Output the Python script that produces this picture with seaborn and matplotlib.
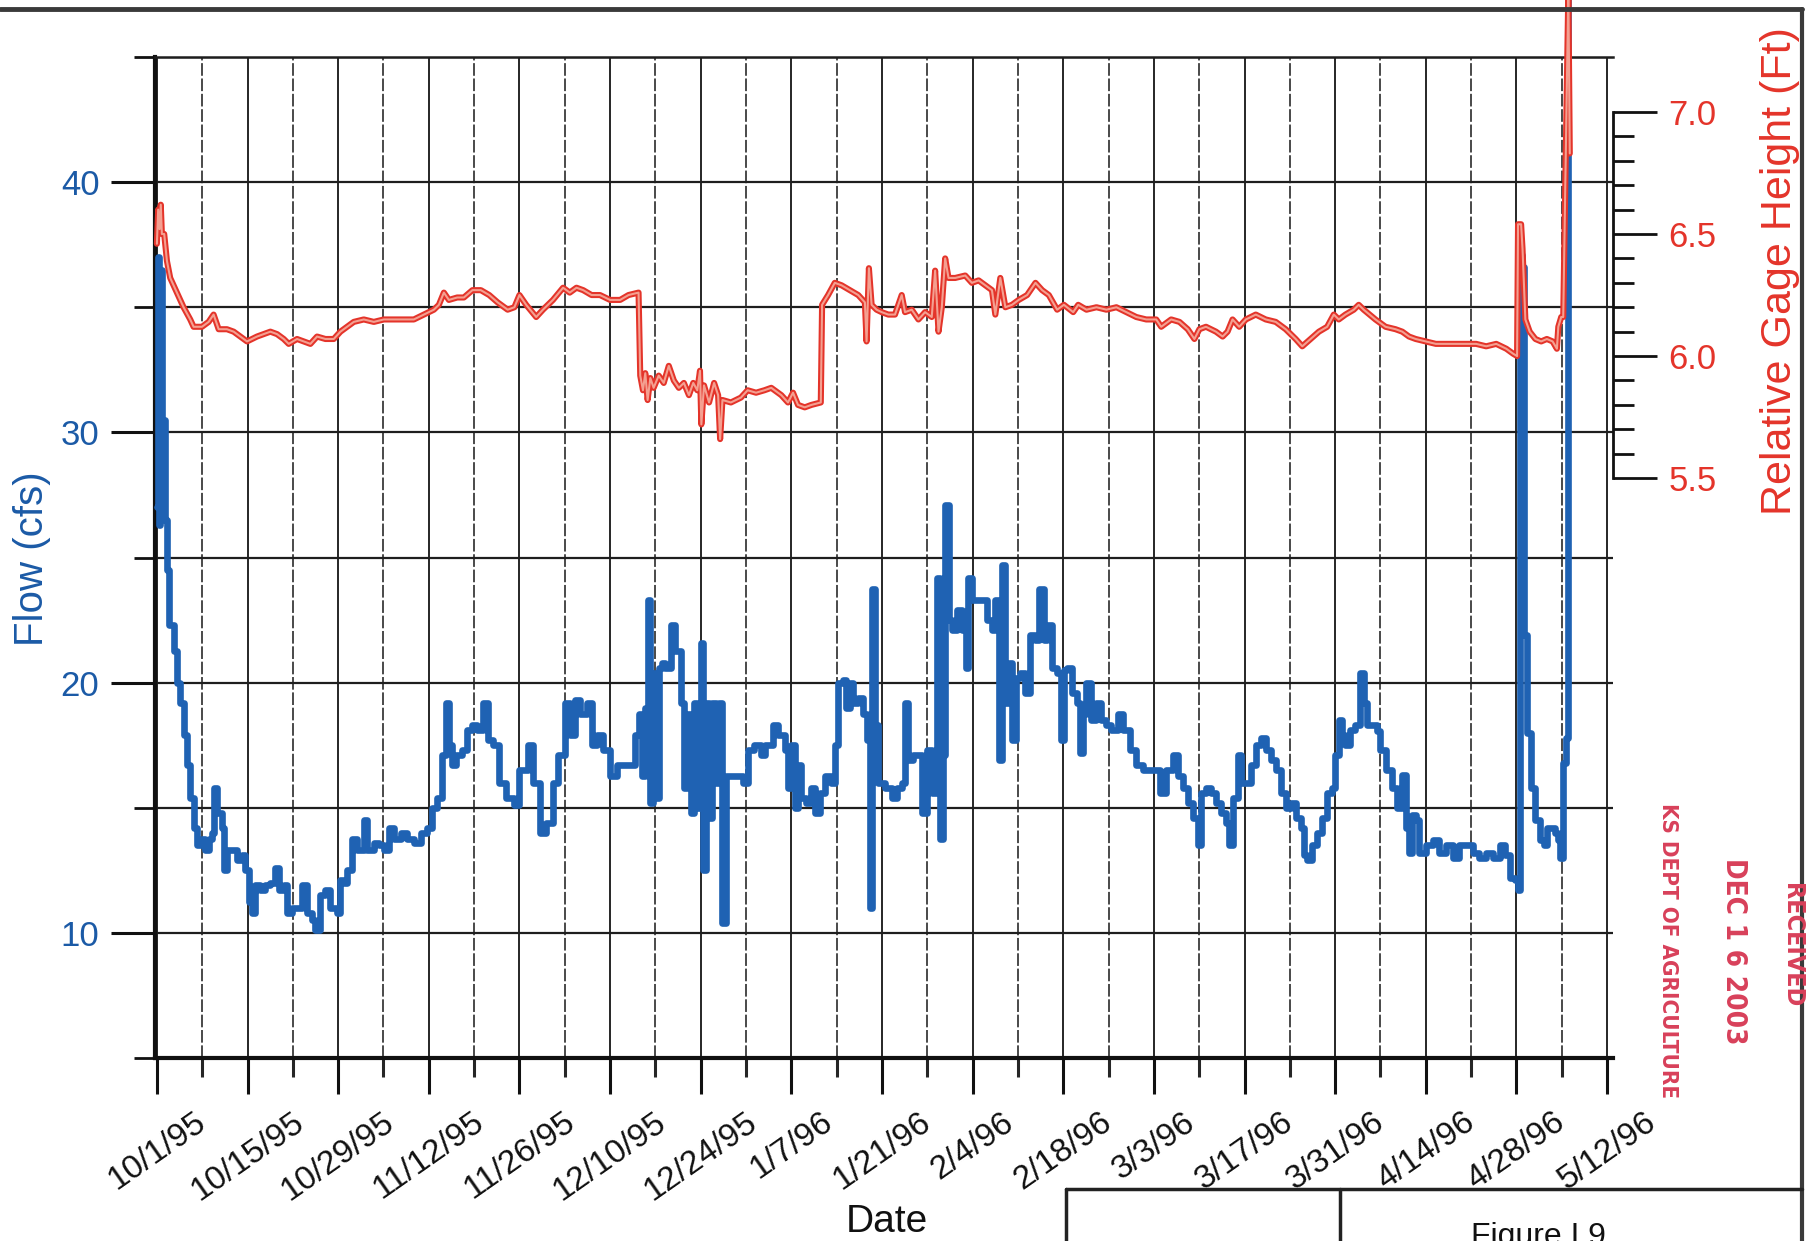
import numpy as np
import pandas as pd
import matplotlib
matplotlib.use("Agg")
import matplotlib.pyplot as plt
import matplotlib.dates as mdates
from matplotlib.lines import Line2D
from matplotlib.ticker import FixedLocator, FormatStrFormatter
import seaborn as sns

# === 1. Values ===
start_date = pd.Timestamp("1995-10-01")

# days since 10/1/95 and flow in cfs (blue trace)
flow_day = [
    0.00, 0.15, 0.35, 0.55, 0.75, 0.95, 1.20, 1.50,
    1.80, 2.58, 3.09, 3.61, 4.12, 4.64, 5.15, 5.67, 6.19, 6.96, 7.47, 7.99, 8.51, 8.87, 9.28,
    10.05, 10.31, 10.82, 11.60, 12.37, 13.14, 13.66, 14.18, 14.69, 15.21, 15.98, 16.75, 17.53,
    18.30, 18.81, 19.59, 20.10, 20.88, 21.65, 22.42, 23.20, 23.97, 24.48, 25.26, 26.03, 26.80,
    27.84, 28.35, 28.87, 29.38, 30.15, 30.93, 31.96, 32.47, 33.51, 34.28, 35.05, 35.82, 36.60,
    37.63, 38.66, 39.69, 40.72, 41.75, 42.53, 43.30, 44.07, 44.59, 45.10, 45.62, 46.13, 47.19,
    47.96, 48.74, 49.52, 50.30, 51.07, 51.85, 52.89, 53.92, 55.22, 56.00, 57.29, 58.07, 59.11,
    60.15, 61.18, 61.96, 63.00, 63.77, 64.55, 65.33, 66.37, 67.14, 67.92, 68.96, 70.00, 71.03,
    72.07, 73.11, 73.88, 74.40, 74.92, 75.44, 75.85, 76.22, 76.63, 77.05, 77.51, 78.03, 78.55,
    79.43, 80.10, 80.88, 81.40, 81.92, 82.54, 82.96, 83.47, 83.99, 84.41, 84.77, 85.29, 85.81,
    86.33, 86.84, 87.36, 87.88, 88.66, 89.70, 90.47, 91.25, 92.29, 93.32,
    93.87, 95.16, 95.93, 96.97, 97.48, 98.00, 98.52, 99.03, 99.55, 100.32, 101.10, 101.62,
    102.39, 103.17, 104.20, 104.71, 105.23, 106.01, 106.52, 107.04, 107.56, 108.33, 109.11,
    109.62, 110.14, 110.40, 110.91, 111.43, 112.46, 113.50, 114.27, 115.05, 115.56, 116.08,
    116.85, 117.63, 118.14, 118.92, 119.69, 120.47, 120.99, 121.35, 121.76, 122.28, 122.79,
    123.57, 124.34, 124.96, 125.27, 125.89, 126.67, 127.44, 128.22, 128.99, 129.51, 130.13,
    130.54, 130.95, 131.57, 132.09, 132.71, 133.38, 134.16, 134.93, 135.71, 136.22, 137.00,
    137.51, 138.29, 139.06, 139.58, 140.10,
    140.51, 141.28, 142.05, 142.56, 143.08, 143.59, 144.36, 145.13, 145.90, 146.67, 147.44,
    148.46, 149.23, 150.26, 151.28, 152.31, 153.85, 154.87, 155.90, 156.92, 157.69, 158.46,
    159.23, 160.00, 160.77, 161.28, 162.05, 162.82, 163.59, 164.36, 165.13, 165.64, 166.15,
    166.92, 167.44, 168.21, 168.97, 169.74, 170.51, 171.28, 172.05, 172.82, 173.59, 174.36,
    175.13, 175.90, 176.67, 177.18, 177.69, 178.46, 179.23, 180.00, 180.77, 181.54, 182.05,
    182.56, 183.08, 183.59, 184.36, 185.13, 185.90, 186.41,
    186.93, 187.70, 188.48, 189.00, 189.78, 190.81, 191.59, 192.37, 192.89, 193.41, 193.92,
    194.44, 194.96, 196.00, 197.04, 198.07, 199.11, 200.15, 201.18, 202.22, 203.26, 204.29,
    205.33, 206.37, 207.40, 208.18, 208.96, 209.74, 210.25, 210.50, 210.81, 211.16, 211.61,
    212.27, 212.93, 213.60, 214.26, 214.70, 215.37, 216.03, 216.47, 216.78, 217.14, 217.58,
    217.93, 218.02,
]
flow_cfs = [
    27.0, 37.0, 26.3, 36.5, 28.0, 30.5, 26.5, 24.5,
    22.3, 21.25, 20.0, 19.2, 17.9, 16.7, 15.4, 14.2, 13.5, 13.75, 13.3, 13.75, 14.0, 15.8, 14.8,
    14.2, 12.5, 13.3, 13.3, 12.9, 13.1, 12.5, 11.25, 10.8, 11.9, 11.7, 11.9, 12.0,
    12.6, 11.7, 11.9, 10.8, 11.0, 11.0, 11.9, 10.8, 10.5, 10.1, 11.5, 11.7, 11.0,
    10.8, 12.1, 12.0, 12.5, 13.75, 13.3, 14.5, 13.3, 13.6, 13.5, 13.3, 14.2, 13.75,
    14.0, 13.75, 13.6, 14.0, 14.2, 15.0, 15.4, 17.1, 19.2, 17.5, 16.7, 17.1, 17.3,
    18.1, 18.3, 18.1, 19.2, 17.7, 17.5, 16.0, 15.4, 15.1, 16.5, 17.5, 16.0, 14.0,
    14.4, 16.0, 17.1, 19.2, 17.9, 19.3, 18.75, 19.2, 17.5, 17.9, 17.3, 16.25, 16.7,
    16.7, 16.7, 17.9, 18.75, 16.25, 19.0, 23.3, 15.2, 20.4, 15.4, 20.6, 20.8, 20.6,
    22.3, 21.25, 19.2, 15.8, 18.75, 14.8, 19.2, 15.0, 21.6, 12.5, 19.2, 14.6, 19.2,
    16.0, 19.2, 10.4, 16.25, 16.25, 16.25, 16.0, 17.3, 17.5, 17.1,
    17.5, 18.3, 17.9, 17.3, 15.8, 17.5, 15.0, 16.7, 15.4, 15.2, 15.8, 14.8,
    15.6, 16.25, 16.0, 17.5, 20.0, 20.1, 19.0, 20.0, 19.2, 19.4, 18.75,
    17.7, 11.0, 23.75, 18.3, 16.0, 15.8, 15.4, 15.8, 16.0, 19.2, 16.9,
    17.1, 17.1, 14.8, 17.3, 15.6, 24.2, 13.75, 17.1, 27.1, 22.5, 22.1,
    22.9, 22.1, 20.6, 24.2, 23.3, 23.3, 23.3, 22.5, 22.1, 23.3, 16.9,
    24.7, 19.2, 20.8, 17.7, 20.2, 20.4, 19.6, 21.9, 21.7, 23.75, 21.7,
    22.3, 20.6, 20.4, 17.7, 20.5,
    20.6, 19.6, 19.2, 17.2, 18.75, 20.0, 18.5, 19.2, 18.5, 18.3, 18.1,
    18.75, 18.1, 17.3, 16.7, 16.5, 16.5, 15.6, 16.5, 17.1, 16.25, 15.8,
    15.2, 14.6, 13.5, 15.6, 15.8, 15.6, 15.2, 14.8, 14.4, 13.5, 15.4,
    17.1, 16.0, 16.0, 16.7, 17.5, 17.8, 17.3, 16.9, 16.5, 15.6, 15.0,
    15.2, 14.6, 14.2, 13.1, 12.9, 13.5, 14.0, 14.6, 15.6, 15.8, 17.1,
    18.5, 17.9, 17.5, 18.1, 18.3, 20.4, 19.2,
    18.3, 18.3, 18.05, 17.3, 16.5, 15.8, 15.0, 16.3, 14.2, 13.2, 14.7,
    14.5, 13.2, 13.5, 13.7, 13.2, 13.5, 13.0, 13.5, 13.5, 13.2, 13.0,
    13.2, 13.0, 13.5, 13.1, 12.2, 12.1, 11.7, 37.1, 36.6, 21.9, 18.0,
    15.8, 14.5, 13.7, 13.5, 14.2, 14.2, 14.0, 13.7, 13.0, 16.8, 17.8,
    18.3, 47.5,
]

# days since 10/1/95 and relative gage height in ft (red trace)
gage_day = [
    0.00, 0.20, 0.41, 0.60, 0.77, 1.13, 1.55, 2.06, 3.09, 4.12, 5.15, 5.67, 6.96, 7.99, 8.76,
    9.54, 10.82, 11.86, 12.89, 13.92, 15.46, 16.49, 17.53, 18.56, 19.59, 20.36, 21.65, 22.68,
    23.71, 24.74, 26.03, 27.32, 28.35, 29.38, 30.41, 31.96, 33.51, 35.05, 36.60, 38.14, 39.69,
    41.24, 42.78, 43.56, 44.33, 45.10, 46.39, 47.42, 48.74, 50.04, 51.33, 52.63, 54.18, 55.22,
    56.00, 57.04, 58.59, 59.63, 61.18, 62.74, 63.77, 64.81, 65.85, 67.14, 68.44, 70.00, 71.55,
    72.85, 74.40, 74.66, 75.08, 75.44, 75.80, 76.22, 76.73, 77.51, 78.29, 79.07, 79.85, 80.62,
    81.40, 82.18, 82.85, 83.47, 83.89, 84.10, 84.51, 85.29, 86.07, 86.69, 87.00, 87.36, 88.66,
    90.21, 91.25, 92.55, 93.84, 94.90, 96.45, 97.48, 98.26, 99.03, 100.07, 101.10, 102.55,
    102.75, 103.68, 104.71, 105.75, 107.04, 108.33, 109.36, 109.62, 109.98, 110.40, 111.17,
    111.95, 112.98, 114.01, 115.05, 115.56, 116.60, 117.63, 118.66, 119.69, 120.21, 120.73,
    121.24, 121.76, 122.28, 123.31, 124.86, 125.89, 126.93, 127.96, 128.99, 129.51, 130.28,
    131.06, 132.09, 133.12, 134.42, 135.71, 136.74, 137.77, 139.06, 140.10, 141.54, 142.31,
    143.59, 145.13, 146.67, 148.21, 149.74, 151.28, 152.82, 154.36, 155.13, 156.67, 157.95,
    159.23, 160.26, 161.03, 162.05, 163.59, 164.62, 165.38, 166.15, 167.18, 168.21, 169.74,
    171.28, 172.82, 174.36, 175.90, 176.92, 178.21, 179.49, 180.77, 181.79, 182.56, 183.59,
    184.87, 185.64, 186.41, 188.22, 189.78, 191.33, 192.37, 193.41, 194.44, 196.00, 197.55,
    199.11, 200.66, 202.22, 203.77, 205.33, 206.88, 208.44, 209.48, 210.10, 210.25, 210.72,
    210.94, 211.38, 212.05, 212.93, 213.82, 214.70, 215.59, 216.25, 216.47, 216.92, 217.23,
    218.02, 218.24,
]
gage_ft = [
    6.46, 6.60, 6.52, 6.62, 6.50, 6.50, 6.39, 6.32, 6.26, 6.20, 6.15, 6.12, 6.12, 6.14, 6.17,
    6.11, 6.11, 6.10, 6.08, 6.06, 6.08, 6.09, 6.10, 6.09, 6.07, 6.05, 6.07, 6.06,
    6.05, 6.08, 6.07, 6.07, 6.10, 6.12, 6.14, 6.15, 6.14, 6.15, 6.15, 6.15, 6.15,
    6.17, 6.19, 6.21, 6.26, 6.23, 6.24, 6.24, 6.27, 6.27, 6.25, 6.22, 6.19, 6.20,
    6.25, 6.21, 6.16, 6.19, 6.23, 6.28, 6.26, 6.28, 6.27, 6.25, 6.25, 6.23, 6.23,
    6.25, 6.26, 5.92, 5.86, 5.93, 5.82, 5.91, 5.87, 5.92, 5.89, 5.96, 5.90, 5.87,
    5.89, 5.84, 5.89, 5.86, 5.94, 5.72, 5.88, 5.81, 5.89, 5.84, 5.66, 5.82, 5.81,
    5.83, 5.86, 5.85, 5.86, 5.87, 5.84, 5.81, 5.85, 5.80, 5.79, 5.80, 5.81,
    6.21, 6.25, 6.30, 6.29, 6.27, 6.25, 6.22, 6.06, 6.36, 6.21, 6.19,
    6.18, 6.17, 6.17, 6.25, 6.18, 6.19, 6.15, 6.18, 6.16, 6.35, 6.10,
    6.20, 6.40, 6.32, 6.32, 6.33, 6.30, 6.31, 6.29, 6.27, 6.17, 6.32,
    6.20, 6.21, 6.23, 6.25, 6.30, 6.27, 6.25, 6.19, 6.21, 6.18, 6.21,
    6.19, 6.20, 6.19, 6.20, 6.18, 6.16, 6.15, 6.15, 6.12, 6.15, 6.14,
    6.11, 6.07, 6.11, 6.12, 6.10, 6.08, 6.10, 6.15, 6.12, 6.15, 6.17,
    6.15, 6.14, 6.11, 6.07, 6.04, 6.07, 6.10, 6.12, 6.17, 6.15, 6.17,
    6.19, 6.21, 6.19, 6.15, 6.12, 6.11, 6.10, 6.08, 6.07, 6.06, 6.05,
    6.05, 6.05, 6.05, 6.05, 6.04, 6.05, 6.03, 6.01, 6.00, 6.54, 6.54,
    6.44, 6.15, 6.10, 6.07, 6.06, 6.07, 6.06, 6.03, 6.12, 6.16, 6.16,
    7.50, 6.83,
]

date_labels = ["10/1/95", "10/15/95", "10/29/95", "11/12/95", "11/26/95", "12/10/95",
               "12/24/95", "1/7/96", "1/21/96", "2/4/96", "2/18/96", "3/3/96", "3/17/96",
               "3/31/96", "4/14/96", "4/28/96", "5/12/96"]
flow_ticks = [10, 20, 30, 40]
flow_minor = [5, 15, 25, 35, 45]
gage_ticks = [5.5, 6.0, 6.5, 7.0]

# === 2. Frames ===
flow_df = pd.DataFrame({"date": start_date + pd.to_timedelta(flow_day, unit="D"), "flow": flow_cfs})
gage_df = pd.DataFrame({"date": start_date + pd.to_timedelta(gage_day, unit="D"), "gage": gage_ft})
tick_dates = pd.to_datetime(date_labels, format="%m/%d/%y")
minor_dates = tick_dates[:-1] + pd.Timedelta(days=7)

BLUE = "#1f62b3"
BLUE_TXT = "#1b5aa6"
RED = "#e4342a"
PINK = "#f4a091"
STAMP = "#d8405a"

sns.set_theme(style="white")
plt.rcParams["font.family"] = ["Liberation Sans", "DejaVu Sans"]

W, H = 1807, 1241
fig = plt.figure(figsize=(W / 100, H / 100), dpi=100)
ax = fig.add_axes([155 / W, 183 / H, 1458 / W, 1001 / H])

# === 3. Flow (left axis) ===
sns.lineplot(data=flow_df, x="date", y="flow", ax=ax, color=BLUE, linewidth=4.8,
             estimator=None, sort=False, drawstyle="steps-post")
ax.lines[-1].set_clip_on(False)
ax.lines[-1].set_zorder(3)

ax.set_ylim(5, 45)
ax.set_xlim(start_date - pd.Timedelta(hours=7), pd.Timestamp("1996-05-12") + pd.Timedelta(hours=22))
ax.set_yticks(flow_ticks)
ax.yaxis.set_minor_locator(FixedLocator(flow_minor))
ax.set_xticks(tick_dates)
ax.set_xticklabels(date_labels)
ax.xaxis.set_minor_locator(FixedLocator(mdates.date2num(minor_dates)))
plt.setp(ax.get_xticklabels(), rotation=35, ha="center", color="#111111")

ax.set_axisbelow(True)
ax.grid(which="major", axis="x", color="#262626", linewidth=1.4)
ax.grid(which="minor", axis="x", color="#3a3a3a", linewidth=1.3, linestyle=(0, (7, 1.5)))
ax.grid(which="both", axis="y", color="#1e1e1e", linewidth=1.6)

ax.tick_params(axis="x", which="major", direction="out", length=26, width=2.2, pad=9,
               labelsize=24, color="#111111", bottom=True)
ax.tick_params(axis="x", which="minor", direction="out", length=14, width=2.2, bottom=True)
ax.tick_params(axis="y", which="major", direction="out", length=32, width=2.2, pad=8,
               labelsize=25, labelcolor=BLUE_TXT, color="#111111", left=True)
ax.tick_params(axis="y", which="minor", direction="out", length=15, width=2.0, left=True,
               color="#111111")

for side in ["left", "bottom"]:
    ax.spines[side].set_color("#111111")
    ax.spines[side].set_linewidth(3)
ax.spines["top"].set_color("#1e1e1e")
ax.spines["top"].set_linewidth(1.8)
ax.spines["right"].set_visible(False)
ax.set_xlabel("")
ax.set_ylabel("")

# === 4. Gage height (right axis) ===
ax2 = ax.twinx()
sns.lineplot(data=gage_df, x="date", y="gage", ax=ax2, color=RED, linewidth=4.4,
             estimator=None, sort=False)
sns.lineplot(data=gage_df, x="date", y="gage", ax=ax2, color=PINK, linewidth=1.5,
             estimator=None, sort=False)
for ln in ax2.lines:
    ln.set_clip_on(False)
ax2.set_ylim(3.125, 7.225)
ax2.set_yticks(gage_ticks)
ax2.yaxis.set_minor_locator(FixedLocator(np.round(np.arange(5.6, 7.0, 0.1), 1)))
ax2.yaxis.set_major_formatter(FormatStrFormatter("%.1f"))
ax2.grid(False)
for side in ["left", "top", "bottom"]:
    ax2.spines[side].set_visible(False)
ax2.spines["right"].set_bounds(5.5, 7.0)
ax2.spines["right"].set_color("#111111")
ax2.spines["right"].set_linewidth(2.0)
ax2.tick_params(axis="y", which="major", direction="out", length=32, width=2.0, pad=8,
                labelsize=25, labelcolor=RED, color="#111111", right=True)
ax2.tick_params(axis="y", which="minor", direction="out", length=15, width=2.0, right=True,
                color="#111111")
ax2.set_xlabel("")
ax2.set_ylabel("")

# === 5. Axis titles ===
fig.text(32 / W, 1 - 559 / H, "Flow (cfs)", rotation=90, ha="center", va="center",
         color=BLUE_TXT, fontsize=29)
fig.text(1780 / W, 1 - 271 / H, "Relative Gage Height (Ft)", rotation=90, ha="center",
         va="center", color=RED, fontsize=31)
fig.text(887 / W, 1 - 1222 / H, "Date", ha="center", va="center", color="#111111", fontsize=28)

# === 6. Scan leftovers: page frame, title block, received stamp ===
top_y = 1 - 9 / H
right_x = 1802 / W
block_y = 1 - 1189 / H
fig.add_artist(Line2D([0, right_x], [top_y, top_y], transform=fig.transFigure, color="#3a3a3a", lw=3.5))
fig.add_artist(Line2D([right_x, right_x], [0, top_y], transform=fig.transFigure, color="#3a3a3a", lw=3))
fig.add_artist(Line2D([1066 / W, right_x], [block_y, block_y], transform=fig.transFigure, color="#222222", lw=2.5))
fig.add_artist(Line2D([1066 / W, 1066 / W], [0, block_y], transform=fig.transFigure, color="#222222", lw=2.5))
fig.add_artist(Line2D([1340 / W, 1340 / W], [0, block_y], transform=fig.transFigure, color="#222222", lw=2.5))
fig.text(1538 / W, 1 - 1222 / H, "Figure I.9", ha="center", va="top", color="#111111", fontsize=23)

fig.text(1668 / W, 1 - 951 / H, "KS DEPT OF AGRICULTURE", rotation=-90, ha="center", va="center",
         color=STAMP, fontsize=16, fontweight="bold", family="DejaVu Sans", fontstretch="condensed")
fig.text(1734 / W, 1 - 951 / H, "DEC 1 6 2003", rotation=-90, ha="center", va="center",
         color=STAMP, fontsize=20, fontweight="bold", family="DejaVu Sans", fontstretch="condensed")
fig.text(1792 / W, 1 - 945 / H, "RECEIVED", rotation=-90, ha="center", va="center",
         color=STAMP, fontsize=18, fontweight="bold", family="DejaVu Sans", fontstretch="condensed")

fig.savefig("out.png", dpi=100)
